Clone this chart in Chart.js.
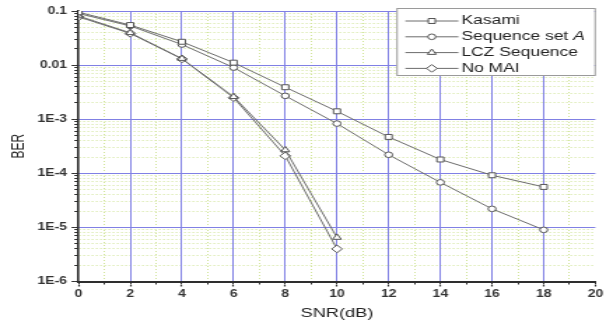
<!DOCTYPE html>
<html>
<head>
<meta charset="utf-8">
<script src="https://cdn.jsdelivr.net/npm/chart.js@4.4.1/dist/chart.umd.min.js"></script>
<style>
  html, body { margin: 0; padding: 0; background: #fff; overflow: hidden; }
  #wrap { width: 433px; height: 324px; transform: scaleX(1.3995); transform-origin: 0 0; }
  canvas { display: block; }
</style>
</head>
<body>
<div id="wrap"><canvas id="ber" width="433" height="324"></canvas></div>
<script>
// SNR points (dB)
const snr = [0, 2, 4, 6, 8, 10, 12, 14, 16, 18];

// Bit error rate per spreading sequence family
const kasami = [0.095, 0.055, 0.027, 0.0111, 0.0039, 0.0014, 0.00047, 0.00018, 0.000092, 0.000056];
const seqA   = [0.090, 0.053, 0.024, 0.0090, 0.0027, 0.00083, 0.00022, 0.000068, 0.000022, 0.000009];
const lcz    = [0.081, 0.0395, 0.0132, 0.0026, 0.00027, 0.0000065];
const noMai  = [0.078, 0.0385, 0.0130, 0.0025, 0.00021, 0.000004];

// Legend names (the italic part is kept separately)
const seriesNames  = ['Kasami', 'Sequence set ', 'LCZ Sequence', 'No MAI'];
const italicSuffix = ['', 'A', '', ''];
const markerStyles = ['rect', 'circle', 'triangle', 'rectRot'];
const markerSizes  = [3.5, 2.8, 3.6, 3.8];

// Axis ticks
const xTickValues = [0, 2, 4, 6, 8, 10, 12, 14, 16, 18, 20];
const xTickLabels = ['0', '2', '4', '6', '8', '10', '12', '14', '16', '18', '20'];
const yTickValues = [0.1, 0.01, 1e-3, 1e-4, 1e-5, 1e-6];
const yTickLabels = ['0.1', '0.01', '1E-3', '1E-4', '1E-5', '1E-6'];

const FONT = '"Liberation Sans", Arial, Helvetica, sans-serif';
const MAJOR_GRID = 'rgb(128,128,228)';
const MINOR_GRID = 'rgb(208,228,152)';
const AXIS = '#2e2e2e';
const LINE = '#6c6c6c';

const sameDecade = (a, b) => Math.abs(Math.log10(a) - Math.log10(b)) < 1e-6;
const isDecade = v => Math.abs(Math.log10(v) - Math.round(Math.log10(v))) < 1e-6;

function series(values) {
  return values.map((y, i) => ({ x: snr[i], y }));
}

const allSeries = [kasami, seqA, lcz, noMai];
const datasets = allSeries.map((vals, i) => ({
  label: seriesNames[i] + italicSuffix[i],
  data: series(vals),
  xAxisID: 'x',
  yAxisID: 'y',
  borderColor: LINE,
  borderWidth: 1,
  backgroundColor: '#fff',
  pointStyle: markerStyles[i],
  pointRadius: markerSizes[i],
  pointBackgroundColor: '#fff',
  pointBorderColor: '#555',
  pointBorderWidth: 1,
  tension: 0
}));

// Minor log grid positions: 1..9 x 10^n inside the axis range
function minorLogTicks() {
  const out = [];
  const lo = Math.round(Math.log10(Math.min(...yTickValues)));
  const hi = Math.round(Math.log10(Math.max(...yTickValues)));
  for (let e = lo; e <= hi; e++) {
    for (let m = 1; m <= 9; m++) {
      const v = m * Math.pow(10, e);
      if (e === hi && m > 1) break;
      out.push({ value: v });
    }
  }
  return out;
}

// Boxed legend with a line-and-marker sample for each series
const boxLegend = {
  id: 'boxLegend',
  afterDraw(chart) {
    const ctx = chart.ctx;
    const area = chart.chartArea;
    const w = 141.5, h = 67;
    const x0 = area.right - w - 0.7, y0 = area.top - 3;
    ctx.save();
    ctx.fillStyle = '#fff';
    ctx.fillRect(x0, y0, w, h);
    ctx.strokeStyle = '#9a9a9a';
    ctx.lineWidth = 1;
    ctx.strokeRect(x0 + 0.5, y0 + 0.5, w, h);
    const rowY = [13, 28.8, 44.6, 60.4];
    chart.data.datasets.forEach((ds, i) => {
      const y = y0 + rowY[i];
      ctx.strokeStyle = ds.borderColor;
      ctx.lineWidth = 1;
      ctx.beginPath();
      ctx.moveTo(x0 + 6.4, y);
      ctx.lineTo(x0 + 44.3, y);
      ctx.stroke();
      ctx.fillStyle = '#fff';
      ctx.strokeStyle = ds.pointBorderColor;
      Chart.helpers.drawPoint(ctx, {
        pointStyle: ds.pointStyle, radius: ds.pointRadius, borderWidth: 1, rotation: 0
      }, x0 + 25.3, y);
      ctx.fillStyle = '#222';
      ctx.textBaseline = 'middle';
      ctx.textAlign = 'left';
      ctx.font = '12.5px ' + FONT;
      const tx = x0 + 46.4;
      ctx.fillText(seriesNames[i], tx, y);
      if (italicSuffix[i]) {
        const wName = ctx.measureText(seriesNames[i]).width;
        ctx.font = 'italic 12.5px ' + FONT;
        ctx.fillText(italicSuffix[i], tx + wName, y);
      }
    });
    ctx.restore();
  }
};

new Chart(document.getElementById('ber'), {
  type: 'line',
  data: { datasets },
  plugins: [boxLegend],
  options: {
    responsive: false,
    animation: false,
    devicePixelRatio: 1,
    layout: { padding: { top: 11, right: 6, left: 0, bottom: 0 } },
    plugins: { legend: { display: false }, tooltip: { enabled: false } },
    scales: {
      // minor vertical grid (odd dB values) and short axis ticks
      x2: {
        type: 'linear', position: 'bottom', min: 0, max: 20,
        ticks: { display: false, stepSize: 1, autoSkip: false },
        grid: {
          color: c => (c.tick && c.tick.value % 2 === 1) ? MINOR_GRID : 'rgba(0,0,0,0)',
          lineWidth: 1, drawTicks: true, tickLength: 3, tickColor: AXIS, tickWidth: 1
        },
        border: { display: true, color: AXIS, width: 2, dash: [1, 2] }
      },
      // minor log grid and the axis line on the left
      y2: {
        type: 'logarithmic', position: 'left', min: 1e-6, max: 0.1,
        afterBuildTicks: s => { s.ticks = minorLogTicks(); },
        ticks: { display: false, autoSkip: false },
        grid: {
          color: c => (c.tick && !isDecade(c.tick.value)) ? MINOR_GRID : 'rgba(0,0,0,0)',
          lineWidth: 1, drawTicks: true, tickLength: 3, tickColor: AXIS, tickWidth: 1
        },
        border: { display: true, color: AXIS, width: 1.6, dash: [1, 2] }
      },
      x: {
        type: 'linear', position: 'bottom', min: 0, max: 20,
        afterBuildTicks: s => { s.ticks = xTickValues.map(v => ({ value: v })); },
        ticks: {
          autoSkip: false, padding: 2, color: '#333',
          font: { family: FONT, size: 10, weight: 'bold' },
          maxRotation: 0,
          callback: v => { const i = xTickValues.indexOf(v); return i >= 0 ? xTickLabels[i] : ''; }
        },
        grid: {
          color: c => (c.tick && c.tick.value > 0 && c.tick.value < 20) ? MAJOR_GRID : 'rgba(0,0,0,0)',
          lineWidth: 1, drawTicks: true, tickLength: 2, tickColor: AXIS, tickWidth: 1.2
        },
        border: { display: false },
        title: {
          display: true, text: 'SNR(dB)', color: '#222',
          font: { family: FONT, size: 13 }, padding: { top: 2.7, bottom: 3.2 }
        }
      },
      y: {
        type: 'logarithmic', position: 'left', min: 1e-6, max: 0.1,
        afterBuildTicks: s => { s.ticks = yTickValues.map(v => ({ value: v })); },
        ticks: {
          autoSkip: false, padding: 3.2, color: '#333',
          font: { family: FONT, size: 10, weight: 'bold' },
          callback: v => { const i = yTickValues.findIndex(t => sameDecade(t, v)); return i >= 0 ? yTickLabels[i] : ''; }
        },
        grid: {
          color: MAJOR_GRID, lineWidth: 1,
          drawTicks: true, tickLength: 2, tickColor: AXIS, tickWidth: 1.2
        },
        border: { display: false },
        title: {
          display: true, text: 'BER', color: '#222',
          font: { family: FONT, size: 12 }, padding: { top: 6.5, bottom: 2.7 }
        }
      }
    }
  }
});
</script>
</body>
</html>
